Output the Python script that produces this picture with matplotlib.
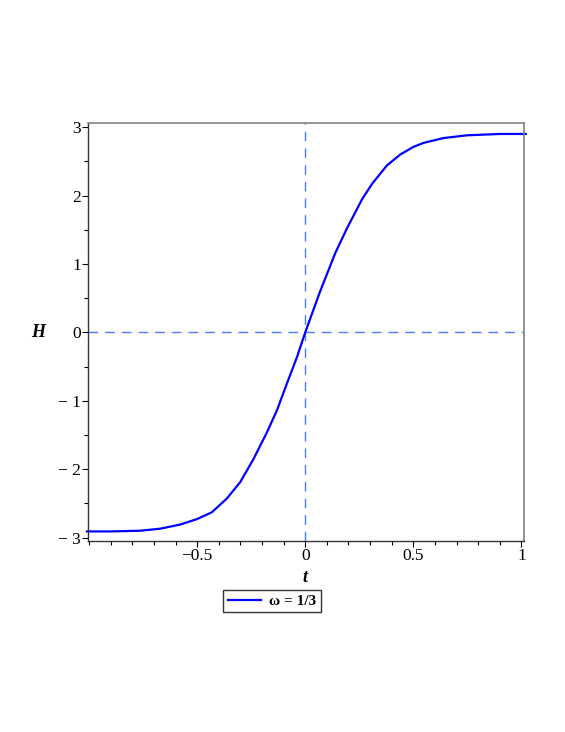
import matplotlib.pyplot as plt
from matplotlib.ticker import FixedLocator, MultipleLocator

# values
t = [-1.01, -0.90, -0.764, -0.671, -0.579, -0.501, -0.432, -0.363, -0.301, -0.239,
     -0.177, -0.131, -0.085, -0.038, 0.0, 0.069, 0.139, 0.193, 0.262, 0.309,
     0.378, 0.44, 0.50, 0.548, 0.640, 0.748, 0.903, 1.02]
H = [-2.91, -2.91, -2.90, -2.87, -2.81, -2.73, -2.63, -2.43, -2.19, -1.85,
     -1.46, -1.14, -0.75, -0.36, 0.0, 0.60, 1.16, 1.52, 1.94, 2.17,
     2.44, 2.60, 2.71, 2.77, 2.84, 2.88, 2.90, 2.90]

xticks = [-0.5, 0, 0.5, 1]
xticklabels = ["\u22120.5", "0", "0.5", "1"]
yticks = [-3, -2, -1, 0, 1, 2, 3]
yticklabels = ["\u2212 3", "\u2212 2", "\u2212 1", "0", "1", "2", "3"]

plt.rcParams['font.family'] = ['Liberation Serif', 'DejaVu Serif']

fig = plt.figure(figsize=(5.65, 7.32), dpi=100)
ax = fig.add_axes([88/565, 1 - 541/732, (524 - 88)/565, (541 - 123)/732])

ax.axhline(0, color="#4d7dff", lw=1.0, dashes=(7, 5))
ax.axvline(0, color="#4d7dff", lw=1.0, dashes=(7, 5))
line, = ax.plot(t, H, color="#0000ff", lw=1.6, clip_on=False, label="\u03c9 = 1/3")

ax.set_xlim(-1.005, 1.012)
ax.set_ylim(-3.05, 3.06)

ax.xaxis.set_major_locator(FixedLocator(xticks))
ax.set_xticklabels(xticklabels)
ax.xaxis.set_minor_locator(MultipleLocator(0.1))
ax.yaxis.set_major_locator(FixedLocator(yticks))
ax.set_yticklabels(yticklabels)
ax.yaxis.set_minor_locator(MultipleLocator(0.5))

ax.tick_params(which="major", length=4, width=0.8, labelsize=12.5, pad=1)
ax.tick_params(which="minor", length=3, width=0.8)
for s in ["top", "right"]:
    ax.spines[s].set_color("#808080")
    ax.spines[s].set_linewidth(1.2)
for s in ["left", "bottom"]:
    ax.spines[s].set_color("#333333")
    ax.spines[s].set_linewidth(1.0)

fig.text(305/565, 1 - 577/732, "t", fontsize=13, fontweight="bold", style="italic",
         ha="center", va="center")
fig.text(38/565, 1 - 332/732, "H", fontsize=13, fontweight="bold", style="italic",
         ha="center", va="center")

leg = fig.legend(handles=[line], loc="center", bbox_to_anchor=(272/565, 1 - 601/732),
                 frameon=True, fancybox=False, edgecolor="black", handlelength=2.2,
                 handletextpad=0.5, borderpad=0.3, borderaxespad=0,
                 prop={"weight": "bold", "size": 11})
leg.get_frame().set_linewidth(1.0)

fig.savefig("out.png", dpi=100)
